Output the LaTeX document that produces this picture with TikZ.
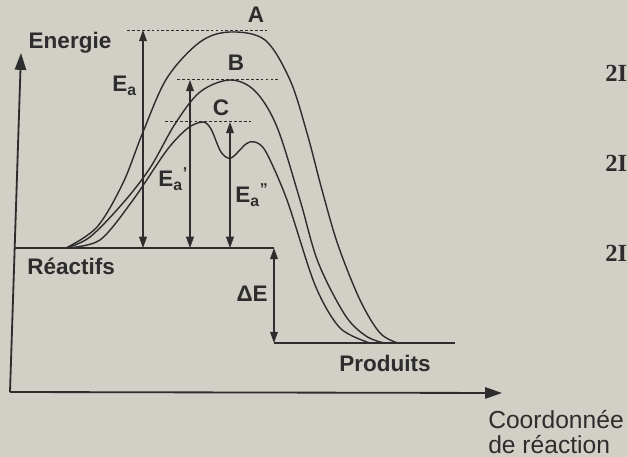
\documentclass[tikz,border=0pt]{standalone}
\usepackage{fontspec}
\setmainfont{Liberation Sans}
\newfontfamily\printserif{Liberation Serif}
\usetikzlibrary{arrows.meta,positioning}
\definecolor{InkMain}{HTML}{2D2D2D}
\definecolor{PaperBack}{HTML}{D2CFC7}
\tikzset{>=Latex,every node/.style={font=\fontsize{16}{18}\selectfont\bfseries,text=InkMain,inner sep=0pt},
 axis/.style={draw=InkMain,line width=1.3pt,-{Triangle[length=12pt,width=8pt]}},
 level/.style={draw=InkMain,line width=1.3pt},
 profile/.style={draw=InkMain,line width=1pt},
 gap/.style={draw=InkMain,line width=1pt,{Triangle[length=8pt,width=5.5pt]}-{Triangle[length=8pt,width=5.5pt]}},
 peakline/.style={draw=InkMain,line width=.6pt,dash pattern=on 2pt off 1.5pt},
 axislabel/.style={anchor=base west,font=\fontsize{17.5}{19}\selectfont}}

\begin{document}
\begin{tikzpicture}[x=0.025cm,y=-0.025cm]
\useasboundingbox (0,0) rectangle (628,457);
\fill[PaperBack] (0,0) rectangle (628,457);
% axes
\coordinate (o) at (10,392);
\coordinate (ytip) at (21,53);
\coordinate (xtip) at (502,393);
\draw[axis] (o)--(ytip);
\draw[axis] (o)--(xtip);
\node (energie) at (70,43) {Energie};
\node[axislabel] (coord1) at (488,428) {Coordonnée};
\node[axislabel] (coord2) at (488,453) {de réaction};
% niveaux
\coordinate (r0) at (15,248); \coordinate (r1) at (274,248);
\coordinate (p0) at (274,343); \coordinate (p1) at (455,343);
\draw[level] (r0)--(r1);
\draw[level] (p0)--(p1);
\node[anchor=west] (reac) at (27,266) {Réactifs};
\node (prod) at (385,363) {Produits};
\draw[gap] (r1)--(p0);
\node[anchor=east] (de) at (268,294) {ΔE};
% profils A, B, C
\draw[profile] plot[smooth,tension=.55] coordinates {(66,248) (97,227) (123,183) (143,132) (167,78)
 (200,42) (230,32) (265,40) (290,80) (307,133) (322,190) (338,245) (360,300) (380,333) (398,343)};
\draw[profile] plot[smooth,tension=.55] coordinates {(66,248) (90,237) (123,203) (150,168) (175,124)
 (200,92) (230,80) (255,91) (277,127) (300,200) (318,262) (345,315) (366,336) (384,343)};
\draw[profile] plot[smooth,tension=.5] coordinates {(66,248) (100,240) (133,200) (167,150) (188,128)
 (203,122) (211,129) (221,152) (231,158) (246,144) (255,142) (266,152) (287,200) (315,285) (340,328) (370,343)};
\foreach \n/\xa/\xb/\y in {A/127/267/30,B/177/280/79,C/165/253/121}{
 \coordinate (\n l) at (\xa,\y); \coordinate (\n r) at (\xb,\y);
 \draw[peakline] (\n l)--(\n r);
}
\node (la) at (256,15) {A};
\node (lb) at (236,63) {B};
\node (lc) at (221,108) {C};
% energies d'activation
\foreach \n/\x/\y in {a/143/30,b/190/80,c/230/122}{
 \coordinate (top\n) at (\x,\y); \coordinate (bot\n) at (\x,248);
 \draw[gap] (top\n)--(bot\n);
}
\node[anchor=base west] (ea) at (112,92) {E\textsubscript{a}};
\node[anchor=base west] (eb) at (158,187) {E\textsubscript{a}\textsuperscript{'}};
\node[anchor=base west] (ec) at (235,203) {E\textsubscript{a}\textsuperscript{''}};
% marge droite
\foreach \y/\k in {82/1,172/2,262/3}
 \node[anchor=base west,font=\printserif\bfseries\fontsize{17.5}{19}\selectfont] (eq\k) at (605,\y) {2I};
\end{tikzpicture}
\end{document}
